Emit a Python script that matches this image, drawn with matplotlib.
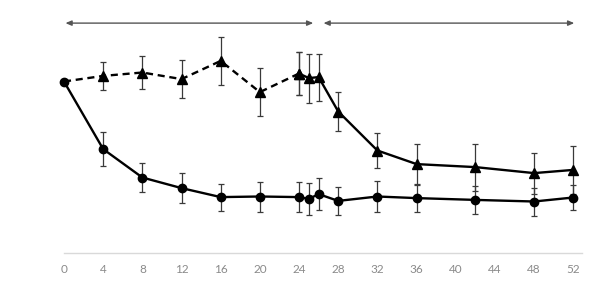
import matplotlib
matplotlib.use("Agg")
import matplotlib.pyplot as plt

# weeks
weeks = [0, 4, 8, 12, 16, 20, 24, 25, 26, 28, 32, 36, 42, 48, 52]

# group with circles (solid line all the way)
circle_mean = [85.7, 51.9, 37.7, 32.4, 27.9, 28.2, 27.9, 27.0, 29.4, 26.0, 28.2, 27.4, 26.5, 25.7, 27.7]
circle_err = [0.0, 8.6, 7.3, 7.4, 6.7, 7.5, 7.5, 7.9, 8.1, 7.0, 7.8, 7.0, 7.2, 7.0, 6.3]

# group with triangles (dashed in first period, solid after)
tri_mean = [85.7, 88.5, 90.2, 86.9, 96.0, 80.4, 89.7, 87.4, 87.9, 70.7, 51.2, 44.4, 42.9, 39.9, 41.5]
tri_err = [0.0, 7.2, 8.2, 9.6, 11.8, 11.9, 10.7, 12.3, 11.8, 9.6, 8.6, 10.2, 11.8, 10.3, 12.1]

tick_weeks = list(range(0, 53, 4))
split = 6  # index of week 24, where the dashed part ends

# period arrows (start, end) in weeks
periods = [(0.15, 25.45), (26.5, 52.1)]
arrow_level = 114.9

fig = plt.figure(figsize=(5.97, 3.0), dpi=100)
ax = fig.add_axes([0.1072, 0.157, 0.8678, 0.7933])

err_kw = dict(ecolor="#3a3a3a", elinewidth=0.9, capsize=2.2, capthick=0.9, clip_on=False)

ax.errorbar(weeks, circle_mean, yerr=circle_err, color="black", lw=1.7,
            marker="o", markersize=6, fmt="-", zorder=3, **err_kw)

ax.errorbar(weeks[:split + 1], tri_mean[:split + 1], yerr=tri_err[:split + 1],
            color="black", lw=1.7, ls=(0, (3, 2)), marker="^", markersize=6.5,
            markevery=list(range(1, split + 1)), zorder=3, **err_kw)
ax.errorbar(weeks[split:], tri_mean[split:], yerr=tri_err[split:],
            color="black", lw=1.7, ls="-", marker="^", markersize=6.5,
            zorder=3, **err_kw)

for start, end in periods:
    ax.annotate("", xy=(end, arrow_level), xytext=(start, arrow_level),
                arrowprops=dict(arrowstyle="<|-|>,head_length=0.35,head_width=0.15",
                                color="#555555", lw=1.0, shrinkA=0, shrinkB=0),
                annotation_clip=False)

ax.set_xlim(0, 52.9)
ax.set_ylim(0, 119)
ax.set_xticks(tick_weeks)
ax.set_xticklabels([str(w) for w in tick_weeks], fontsize=8.5, color="#8a8a8a",
                   family=["Lato", "DejaVu Sans"])
ax.set_yticks([])
ax.tick_params(axis="x", length=0, pad=8)

for spine in ("top", "right", "left"):
    ax.spines[spine].set_visible(False)
ax.spines["bottom"].set_color("#d9d9d9")
ax.spines["bottom"].set_linewidth(1.0)

fig.savefig("out.png", dpi=100)
